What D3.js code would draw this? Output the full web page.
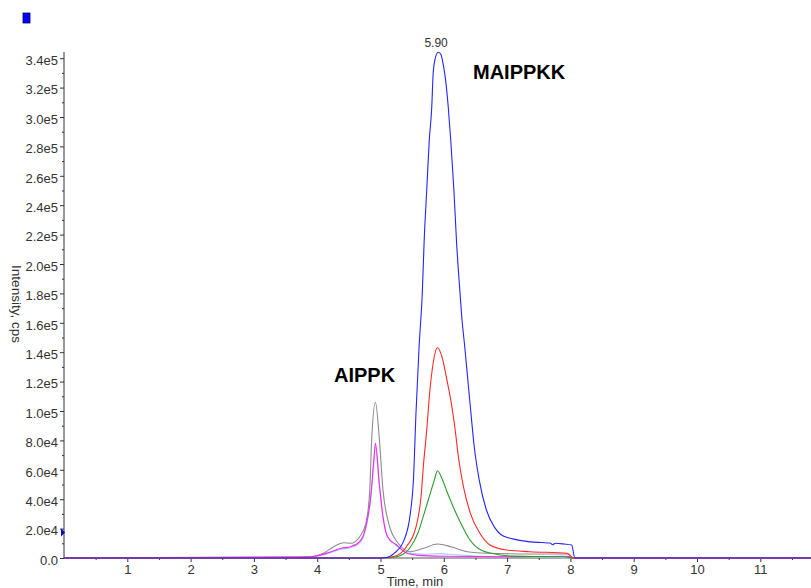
<!DOCTYPE html>
<html>
<head>
<meta charset="utf-8">
<script src="https://cdn.jsdelivr.net/npm/d3@7"></script>
<style>
  html, body { margin: 0; padding: 0; background: #fff; }
  svg { display: block; font-family: Arial, "Liberation Sans", sans-serif; }
</style>
</head>
<body>
<svg id="chart" width="811" height="588"></svg>
<script>
// ---- data (time in min, intensity in cps) ----
const yTickValues = [0, 20000, 40000, 60000, 80000, 100000, 120000, 140000, 160000, 180000,
  200000, 220000, 240000, 260000, 280000, 300000, 320000, 340000];
const xTickValues = [1, 2, 3, 4, 5, 6, 7, 8, 9, 10, 11];

const blueSeries = [[0,0],[5.0,0],[5.1,300],[5.21,3000],[5.37,12000],[5.47,30000],[5.52,53000],[5.56,98000],
  [5.61,144000],[5.66,180000],[5.69,216000],[5.73,250000],[5.77,284000],[5.81,307000],[5.83,328000],
  [5.86,339000],[5.91,344000],[5.95,343000],[5.99,336000],[6.02,328000],[6.07,307000],[6.11,284000],
  [6.16,250000],[6.2,216000],[6.26,178000],[6.28,166000],[6.33,144000],[6.38,121000],[6.43,98000],
  [6.48,76000],[6.56,53000],[6.67,33000],[6.8,21000],[6.9,16000],[7.05,13400],[7.2,12000],[7.36,11000],
  [7.55,10500],[7.68,10200],[7.72,9000],[7.76,10000],[7.9,9500],[8.02,8800],[8.07,0],[11.8,0]];
const redSeries = [[0,0],[5.0,0],[5.05,200],[5.21,1000],[5.41,7700],[5.56,21000],[5.64,41700],[5.68,64000],
  [5.73,87000],[5.78,114000],[5.83,132000],[5.9,143000],[5.97,137000],[6.05,121000],[6.12,105000],
  [6.18,87000],[6.23,69000],[6.31,48500],[6.42,30400],[6.57,16800],[6.73,8800],[6.99,5400],[7.36,4300],
  [7.95,3200],[8.05,0],[11.8,0]];
const greenSeries = [[0,0],[5.1,0],[5.27,1000],[5.46,6600],[5.59,16800],[5.69,30400],[5.77,41700],[5.85,53000],
  [5.9,59400],[5.98,53000],[6.06,44000],[6.17,32700],[6.27,23600],[6.38,14500],[6.54,6600],[6.75,3200],
  [7.1,1300],[7.9,800],[8.05,0],[11.8,0]];
const graySeries = [[0,0],[3.57,200],[3.9,900],[4.1,3200],[4.26,7700],[4.42,10400],[4.53,10000],[4.67,14500],
  [4.77,23600],[4.83,46000],[4.86,80000],[4.92,106000],[4.98,82000],[5.04,46000],[5.13,23600],[5.28,10000],
  [5.47,4300],[5.68,6600],[5.9,9500],[6.11,7700],[6.37,4300],[6.69,3200],[7.41,2700],[7.95,2700],[8.05,0],[11.8,0]];
const magentaSeries = [[0,0],[3.9,900],[4.06,2000],[4.22,4300],[4.38,6600],[4.53,7700],[4.69,12200],[4.78,23600],
  [4.84,39500],[4.89,64000],[4.92,78000],[4.98,51000],[5.04,28000],[5.11,14500],[5.25,9000],[5.42,3200],
  [5.6,1800],[6.0,1200],[7.0,800],[7.95,1200],[8.05,0],[11.8,0]];
const lightBlueSeries = [[0,0],[3.9,700],[4.22,3800],[4.38,6000],[4.53,7000],[4.69,11000],[4.78,22000],
  [4.84,38000],[4.89,62000],[4.92,76000],[4.98,50000],[5.04,27000],[5.12,14000],[5.25,8500],[5.42,3500],
  [5.7,2500],[5.9,3000],[6.2,2200],[6.6,1200],[7.5,900],[8.05,0],[11.8,0]];

const series = [
  { data: lightBlueSeries, color: "#9fd3f0" },
  { data: graySeries, color: "#8c8c8c" },
  { data: magentaSeries, color: "#ff22ff" },
  { data: greenSeries, color: "#2e9a2e" },
  { data: redSeries, color: "#ff2a2a" },
  { data: blueSeries, color: "#2424ff" }
];

// ---- layout ----
const svg = d3.select("#chart");
const x0 = 64, x1 = 811, yBase = 558, yTop = 52;
const x = d3.scaleLinear().domain([0, (x1 - x0) / 63.3]).range([x0, x1]);
const y = d3.scaleLinear().domain([0, (yBase - yTop) / 0.00147]).range([yBase, yTop]);

const fmt = v => {
  if (v === 0) return "0.0";
  const e = Math.floor(Math.log10(v));
  return (v / Math.pow(10, e)).toFixed(1) + "e" + e;
};

// y axis minor ticks
const yMinor = d3.range(10000, 344000, 20000);
svg.append("g").attr("transform", `translate(${x0},0)`)
  .call(d3.axisLeft(y).tickValues(yMinor).tickSize(2).tickFormat(""))
  .call(g => g.select(".domain").remove())
  .call(g => g.selectAll("line").attr("stroke", "#333"));
// y axis major
const yAxis = svg.append("g").attr("transform", `translate(${x0},0)`)
  .call(d3.axisLeft(y).tickValues(yTickValues).tickSize(4).tickPadding(2).tickFormat(fmt));
yAxis.select(".domain").attr("d", `M0,${yBase}V${yTop}`).attr("stroke", "#333");
yAxis.selectAll("line").attr("stroke", "#333");
yAxis.selectAll("text").attr("font-size", 13).attr("fill", "#333").attr("dy", "0.48em")
  .attr("font-family", "Arial, 'Liberation Sans', sans-serif");

// x axis minor
const xMinor = d3.range(0.5, 11.8, 1);
svg.append("g").attr("transform", `translate(0,${yBase})`)
  .call(d3.axisBottom(x).tickValues(xMinor).tickSize(2).tickFormat(""))
  .call(g => g.select(".domain").remove())
  .call(g => g.selectAll("line").attr("stroke", "#333"));
const xAxis = svg.append("g").attr("transform", `translate(0,${yBase})`)
  .call(d3.axisBottom(x).tickValues(xTickValues).tickSize(4).tickPadding(3).tickFormat(d3.format("d")));
xAxis.select(".domain").attr("d", `M${x0},0H${x1}`).attr("stroke", "#555");
xAxis.selectAll("line").attr("stroke", "#333");
xAxis.selectAll("text").attr("font-size", 13).attr("fill", "#333")
  .attr("font-family", "Arial, 'Liberation Sans', sans-serif");

// lines
const line = d3.line().x(d => x(d[0])).y(d => y(d[1])).curve(d3.curveMonotoneX);
svg.append("g").selectAll("path").data(series).join("path")
  .attr("d", s => line(s.data))
  .attr("fill", "none")
  .attr("stroke", s => s.color)
  .attr("stroke-width", 1.1)
  .attr("stroke-linejoin", "round");

// axis titles
svg.append("text").attr("transform", "translate(12,304) rotate(90)")
  .attr("text-anchor", "middle").attr("font-size", 13.5).attr("fill", "#333")
  .text("Intensity, cps");
svg.append("text").attr("x", 415).attr("y", 586).attr("text-anchor", "middle")
  .attr("font-size", 13).attr("fill", "#333").text("Time, min");

// annotations
const peakT = 5.91, peakV = 344000;
svg.append("text").attr("x", x(peakT) - 2).attr("y", y(peakV) - 5).attr("text-anchor", "middle")
  .attr("font-size", 12).attr("fill", "#333").text("5.90");
svg.append("text").attr("x", 473).attr("y", 79).attr("font-size", 20).attr("font-weight", "bold")
  .attr("fill", "#000").text("MAIPPKK");
svg.append("text").attr("x", 334).attr("y", 382).attr("font-size", 20).attr("font-weight", "bold")
  .attr("fill", "#000").text("AIPPK");

// small markers
svg.append("rect").attr("x", 23).attr("y", 13).attr("width", 7).attr("height", 10)
  .attr("fill", "#0000ff").attr("stroke", "#000060").attr("stroke-width", 0.8);
const triY = y(20000) + 4;
svg.append("path").attr("d", `M${x0 - 3},${triY - 4}L${x0 + 1},${triY}L${x0 - 3},${triY + 4}Z`)
  .attr("fill", "#0000cc");
</script>
</body>
</html>
